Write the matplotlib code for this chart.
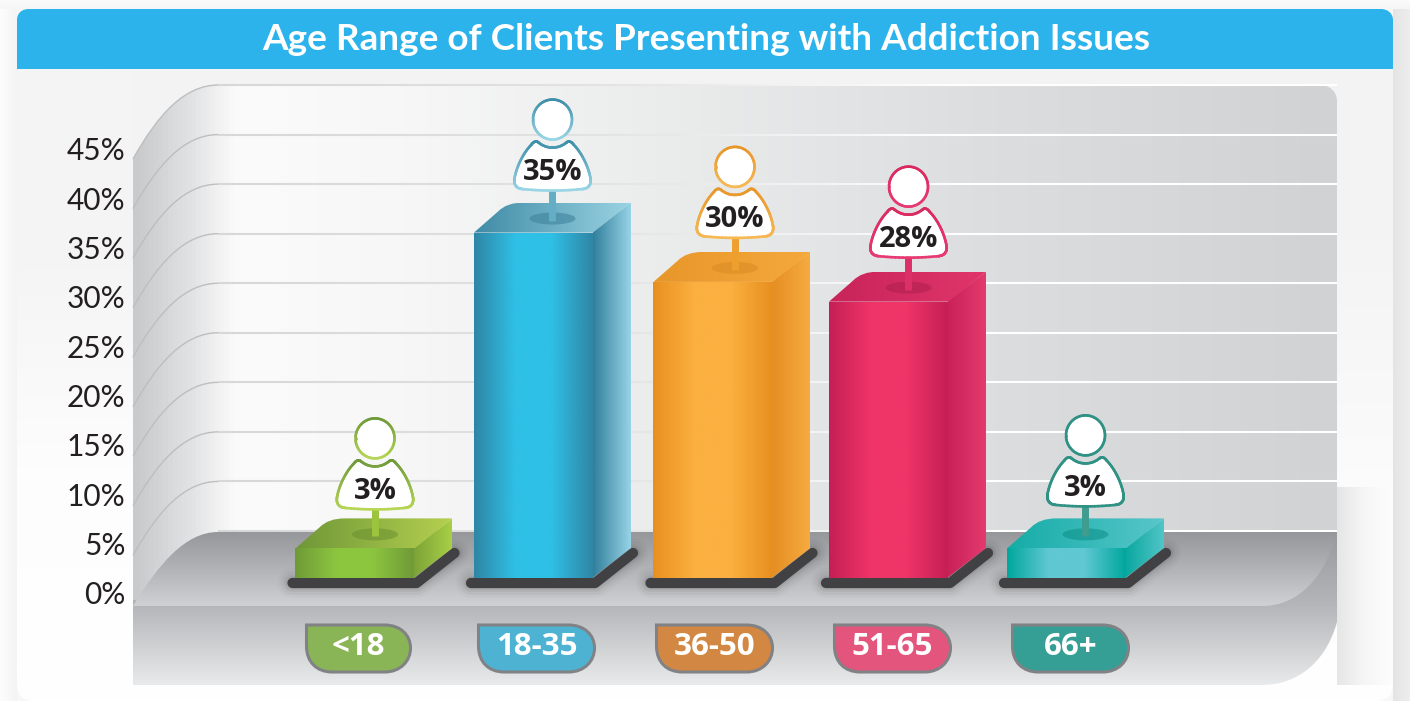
import matplotlib
matplotlib.use("Agg")
import numpy as np
import matplotlib.pyplot as plt
from matplotlib.path import Path
from matplotlib.patches import PathPatch
from matplotlib.colors import LinearSegmentedColormap
from matplotlib.collections import LineCollection

plt.rcParams['font.family'] = ['Open Sans', 'DejaVu Sans']

# ---------- data ----------
TITLE = "Age Range of Clients Presenting with Addiction Issues"
categories = ["<18", "18-35", "36-50", "51-65", "66+"]
values = [3, 35, 30, 28, 3]
value_labels = ["3%", "35%", "30%", "28%", "3%"]
y_ticks = [0, 5, 10, 15, 20, 25, 30, 35, 40, 45]
y_tick_labels = ["0%", "5%", "10%", "15%", "20%", "25%", "30%", "35%", "40%", "45%"]

# ---------- styles ----------
front_edge = ["#6f9a38", "#2f86a5", "#e8901f", "#c41f55", "#00a79d"]
front_mid = ["#8cc63f", "#2fc0e6", "#fbb040", "#ef3468", "#5fc8d2"]
top_from = ["#6f9738", "#3f8ba5", "#e8962a", "#c8245a", "#15aca6"]
top_to = ["#b5d050", "#9ad3e3", "#f5a93c", "#e0356a", "#58c6cb"]
side_from = ["#7da338", "#327f9c", "#e58e23", "#c92259", "#0aa89f"]
side_to = ["#a8cf45", "#97d4e6", "#f6ab40", "#e43a6e", "#52c5c8"]
line_top = ["#6f9a3a", "#3d8ea8", "#e8962a", "#d92a60", "#2f9284"]
line_bot = ["#b7d655", "#9bd6e6", "#f7b955", "#e83a72", "#2f9284"]
stem_col = ["#9cc43c", "#64aec5", "#ef9f2e", "#dd2f68", "#3f9c8f"]
spot_col = ["#6a8f30", "#3a8099", "#d98a22", "#b01f50", "#0b8f88"]
pill_col = ["#89b556", "#4eb3d3", "#d28743", "#e3557c", "#359e95"]
pill_half = [52, 58, 58, 58, 58]
bar_nudge = [0, 0.5, 2, -0.5, -0.5]
pin_dx = [20, 19, 22, 20, 19]
pin_dy = [-3, 0, 2, 2, 0]

W, H = 1410, 701
STEP = 178.0
SY = 9.87
BASE_PY = 578
TICK0_PY = 594

fig = plt.figure(figsize=(W / 100, H / 100), dpi=100, facecolor="#f7f7f7")


def gradient(ax, extent, stops, vertical, clip, zorder):
    cmap = LinearSegmentedColormap.from_list("g", stops)
    ramp = np.linspace(0, 1, 256)
    arr = ramp[:, None] if vertical else ramp[None, :]
    im = ax.imshow(arr, cmap=cmap, vmin=0, vmax=1, extent=extent, aspect="auto",
                   origin="upper", interpolation="bilinear", zorder=zorder)
    if clip is not None:
        im.set_clip_path(PathPatch(clip, transform=ax.transData))
    return im


M, L, C, Z = Path.MOVETO, Path.LINETO, Path.CURVE4, Path.CLOSEPOLY


def mk(seq):
    v, c = [], []
    for item in seq:
        code = item[0]
        if code == Z:
            v.append(v[0]); c.append(Z)
        elif code == C:
            v += list(item[1:]); c += [C] * 3
        else:
            v.append(item[1]); c.append(code)
    return Path(v, c)


def flatten(path):
    scaled = Path(np.asarray(path.vertices) * 20, path.codes)
    return scaled.to_polygons(closed_only=False)[0] / 20


# ---------- background layer (pixel coordinates, decoration only) ----------
bg = fig.add_axes([0, 0, 1, 1], zorder=0)
bg.set_xlim(0, W); bg.set_ylim(H, 0); bg.axis("off"); bg.autoscale(False)

gradient(bg, (0, 17, 701, 0), ["#fdfdfd", "#f4f4f4"], False, None, 0)
gradient(bg, (1393, 1410, 701, 0), ["#e4e4e4", "#eeeeee"], False, None, 0)
gradient(bg, (0, 1410, 9, 0), ["#fbfbfb", "#f6f6f6"], True, None, 0)

card = mk([(M, (17, 20)), (C, (17, 13), (22, 9), (29, 9)), (L, (1381, 9)),
           (C, (1388, 9), (1393, 14), (1393, 20)), (L, (1393, 684)),
           (C, (1393, 696), (1386, 701), (1376, 701)), (L, (34, 701)),
           (C, (24, 701), (17, 696), (17, 684)), (Z,)])
gradient(bg, (17, 1393, 701, 9), ["#f3f3f3", "#f4f4f4", "#fbfbfb", "#ffffff"], True, card, 1)

gradient(bg, (1337, 1393, 685, 487), ["#e6e6e6", "#f6f6f6", "#fdfdfd"], False, None, 2)
gradient(bg, (17, 133, 670, 69), ["#f4f4f4", "#f5f5f5", "#fdfdfd", "#ffffff"], True, None, 2)

header = mk([(M, (17, 69)), (L, (17, 20)), (C, (17, 13), (22, 9), (29, 9)), (L, (1381, 9)),
             (C, (1388, 9), (1393, 14), (1393, 20)), (L, (1393, 69)), (Z,)])
bg.add_patch(PathPatch(header, fc="#2cb3ec", ec="none", zorder=3))

WALL0, WALL_STEP = 531, 9.91
wall = mk([(M, (133, 606)), (L, (133, 159)), (C, (158, 114), (185, 85), (218, 85)),
           (L, (1320, 85)), (C, (1330, 85), (1337, 92), (1337, 101)),
           (L, (1337, 532)), (Z,)])
wall_stops = [(0, "#c9cacc"), (57 / 1204, "#e3e4e5"), (78 / 1204, "#f0f0f1"), (100 / 1204, "#fbfbfb"),
              (267 / 1204, "#f7f7f7"), (567 / 1204, "#e9eaea"), (867 / 1204, "#dcdddf"), (1, "#d1d2d4")]
gradient(bg, (133, 1337, 606, 85), wall_stops, False, wall, 4)

shade = LinearSegmentedColormap.from_list("l", ["#d6d7d8", "#e2e2e2", "#ffffff", "#ffffff"])
xs = np.linspace(218, 1337, 120)
for v in y_ticks:
    y = WALL0 - v * WALL_STEP
    curve = mk([(M, (133, y + 74)), (C, (158, y + 29), (185, y), (218, y))])
    if v > 0:
        bg.add_patch(PathPatch(curve, fc="none", ec="#bdbec0", lw=1.0, zorder=5))
    seg = np.stack([np.c_[xs[:-1], np.full(119, y)], np.c_[xs[1:], np.full(119, y)]], axis=1)
    bg.add_collection(LineCollection(seg, colors=shade(np.linspace(0, 1, 119)), linewidths=1.5, zorder=5))

plinth = mk([(M, (133, 600)), (L, (1337, 532)), (L, (1337, 622)),
             (C, (1325, 665), (1295, 685), (1262, 685)), (L, (133, 685)), (Z,)])
gradient(bg, (133, 1337, 685, 532), [(0, "#98999c"), (74 / 153, "#b5b6b9"), (1, "#e9eaeb")], True, plinth, 6)
floor = mk([(M, (133, 606)), (C, (158, 565), (185, 532), (218, 532)), (L, (1337, 532)),
            (C, (1325, 578), (1298, 606), (1262, 606)), (Z,)])
gradient(bg, (133, 1337, 606, 532), ["#96979b", "#b2b3b6", "#d0d1d3"], True, floor, 7)

# ---------- bars layer (percent values on y, category index on x) ----------
ax = fig.add_axes([0, 0, 1, 1], zorder=1)
ax.set_xlim(-355 / STEP, (W - 355) / STEP)
ax.set_ylim(-(H - BASE_PY) / SY, BASE_PY / SY)
ax.axis("off"); ax.autoscale(False); ax.patch.set_alpha(0)


def pt(i, v, dx, dy):
    return (i + (bar_nudge[i] + dx) / STEP, v + dy / SY)


HALF, DX, DY = 59.5, 38, 30

for i, v in enumerate(values):
    z = 10 + i
    base = [pt(i, 0, -HALF - 3, -5), pt(i, 0, HALF + 2, -5), pt(i, 0, HALF + DX + 2, DY - 5)]
    bx, by = zip(*base)
    for w, a in zip((30, 24, 18, 14), (0.02, 0.03, 0.04, 0.05)):
        ax.plot(bx, by, color="#000000", alpha=a, lw=w * 0.72, solid_capstyle="round",
                solid_joinstyle="round", zorder=z)
    ax.plot(bx, by, color="#414042", lw=7.4, solid_capstyle="round", solid_joinstyle="round", zorder=z)

    side = Path([pt(i, 0, HALF - 1, 0), pt(i, 0, HALF + DX, DY), pt(i, v, HALF + DX, DY),
                 pt(i, v, HALF - 1, 0), pt(i, 0, HALF - 1, 0)], [M, L, L, L, Z])
    x0, yb = pt(i, 0, HALF, 0)
    x1, yt = pt(i, v, HALF + DX, DY)
    gradient(ax, (x0, x1, yb, yt), [side_from[i], side_to[i]], False, side, z + 0.1)

    top = mk([(M, pt(i, v, -HALF, 0)), (L, pt(i, v, HALF, 0)), (L, pt(i, v, HALF + DX, DY)),
              (L, pt(i, v, -HALF + 50, DY)),
              (C, pt(i, v, -HALF + 38, DY), pt(i, v, -HALF + 30, DY - 3), pt(i, v, -HALF + 24, DY - 9)),
              (Z,)])
    x0, yb = pt(i, v, -HALF, 0)
    x1, yt = pt(i, v, HALF + DX, DY)
    gradient(ax, (x0, x1, yb, yt), [top_from[i], top_to[i]], False, top, z + 0.2)

    front = Path([pt(i, 0, -HALF, 0), pt(i, 0, HALF, 0), pt(i, v, HALF, 0), pt(i, v, -HALF, 0),
                  pt(i, 0, -HALF, 0)], [M, L, L, L, Z])
    x0, yb = pt(i, 0, -HALF, 0)
    x1, yt = pt(i, v, HALF, 0)
    gradient(ax, (x0, x1, yb, yt),
             [(0, front_edge[i]), (0.35, front_mid[i]), (0.65, front_mid[i]), (1, front_edge[i])],
             False, front, z + 0.3)

    d, e = pin_dx[i], pin_dy[i]
    tt = np.linspace(0, 2 * np.pi, 80)
    sx, sy_ = zip(*[pt(i, v, d + 23 * np.cos(t), 14 + 6 * np.sin(t)) for t in tt])
    ax.fill(sx, sy_, color=spot_col[i], alpha=0.55, lw=0, zorder=z + 0.4)
    sx, sy_ = zip(pt(i, v, d, 12), pt(i, v, d, 44 + e))
    ax.plot(sx, sy_, color=stem_col[i], lw=5.0, solid_capstyle="butt", zorder=z + 0.5)

    rhs = [(M, (0, 85)), (C, (6, 85), (10, 87), (14, 90)), (C, (16, 92), (19, 91), (21, 88)),
           (C, (29, 80), (36, 66), (38, 54)), (C, (39, 48), (36, 44), (30, 43.5)),
           (C, (20, 42.5), (10, 42), (0, 42))]
    lhs = [(C, (-10, 42), (-20, 42.5), (-30, 43.5)), (C, (-36, 44), (-39, 48), (-38, 54)),
           (C, (-36, 66), (-29, 80), (-21, 88)), (C, (-19, 91), (-16, 92), (-14, 90)),
           (C, (-10, 87), (-6, 85), (0, 85))]
    outline = flatten(mk(rhs + lhs))
    head = np.c_[19.5 * np.cos(tt), 113 + 20 * np.sin(tt)]
    cmap = LinearSegmentedColormap.from_list("o", [line_bot[i], line_top[i]])
    for shape, lo, hi in ((outline, 42, 92), (head, 93, 133)):
        data = np.array([pt(i, v, d + a, b + e) for a, b in shape])
        ax.fill(data[:, 0], data[:, 1], color="white", lw=0, zorder=z + 0.6)
        segs = np.stack([data[:-1], data[1:]], axis=1)
        h = (shape[:-1, 1] - lo) / (hi - lo)
        ax.add_collection(LineCollection(segs, colors=cmap(h), linewidths=1.9,
                                         capstyle="round", zorder=z + 0.7))
    lx, ly = pt(i, v, d, 60 + e)
    ax.text(lx, ly, value_labels[i], ha="center", va="center", fontsize=21, fontweight="bold",
            color="#231f20", zorder=z + 0.8)

# ---------- axis layer: real ticks and category pills ----------
left_px, right_px = 133, 1337
ay = fig.add_axes([left_px / W, (H - TICK0_PY + 1) / H, (right_px - left_px) / W, 45 * SY / H], zorder=2)
ay.patch.set_alpha(0)
ay.set_xlim((left_px - 358.5) / STEP, (right_px - 358.5) / STEP)
ay.set_ylim(0, 45)
for s in ay.spines.values():
    s.set_visible(False)
ay.set_yticks(y_ticks)
ay.set_yticklabels(y_tick_labels, fontsize=21.5, color="#231f20", family="Lato")
ay.set_xticks(range(len(categories)))
ay.set_xticklabels(categories, fontsize=22.5, fontweight="bold", color="white")
ay.tick_params(axis="y", length=0, pad=5.5)
ay.tick_params(axis="x", length=0, pad=28)

for i, (col, hw) in enumerate(zip(pill_col, pill_half)):
    def q(dx, py):
        return (i + dx / STEP, (TICK0_PY - 1 - py) / SY)
    pill = mk([(M, q(-hw, 625)), (L, q(hw - 26, 625)), (C, q(hw - 10, 625), q(hw, 635), q(hw, 648)),
               (C, q(hw, 661), q(hw - 10, 672), q(hw - 26, 672)), (L, q(-hw + 26, 672)),
               (C, q(-hw + 10, 672), q(-hw, 662), q(-hw, 646)), (Z,)])
    ay.add_patch(PathPatch(pill, fc=col, ec="#808285", lw=2.2, clip_on=False, zorder=1))

fig.text(706 / W, 1 - 40 / H, TITLE, ha="center", va="center", color="white",
         fontsize=26.6, fontweight="bold", family="Lato", zorder=5)

fig.savefig("out.png", dpi=100, facecolor=fig.get_facecolor())
